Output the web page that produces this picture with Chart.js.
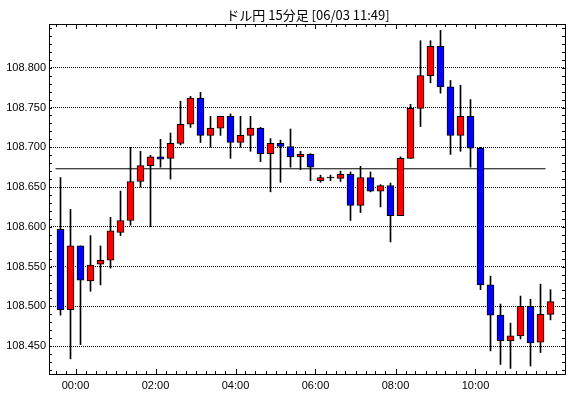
<!DOCTYPE html>
<html>
<head>
<meta charset="utf-8">
<script src="https://cdn.jsdelivr.net/npm/chart.js@4/dist/chart.umd.min.js"></script>
<style>
  html, body { margin: 0; padding: 0; background: #fff; }
  #wrap { width: 570px; height: 398px; position: relative; }
</style>
</head>
<body>
<div id="wrap"><canvas id="candleChart"></canvas></div>
<script>
  var chartTitle = "ドル円 15分足 [06/03 11:49]";

  // 15 minute bars, first bar starts 23:30 the day before
  var times = [
    "23:30", "23:45", "00:00", "00:15", "00:30", "00:45", "01:00", "01:15", "01:30", "01:45",
    "02:00", "02:15", "02:30", "02:45", "03:00", "03:15", "03:30", "03:45", "04:00", "04:15",
    "04:30", "04:45", "05:00", "05:15", "05:30", "05:45", "06:00", "06:15", "06:30", "06:45",
    "07:00", "07:15", "07:30", "07:45", "08:00", "08:15", "08:30", "08:45", "09:00", "09:15",
    "09:30", "09:45", "10:00", "10:15", "10:30", "10:45", "11:00", "11:15", "11:30", "11:45"
  ];

  var opens = [
    108.597, 108.496, 108.576, 108.532, 108.553, 108.558, 108.593, 108.608, 108.657, 108.677,
    108.688, 108.686, 108.705, 108.729, 108.762, 108.715, 108.724, 108.739, 108.706, 108.715,
    108.724, 108.692, 108.705, 108.701, 108.688, 108.691, 108.658, 108.662, 108.661, 108.666,
    108.627, 108.662, 108.645, 108.652, 108.614, 108.686, 108.749, 108.790, 108.827, 108.776,
    108.715, 108.739, 108.699, 108.527, 108.489, 108.457, 108.463, 108.500, 108.455, 108.490
  ];
  var highs = [
    108.662, 108.622, 108.576, 108.589, 108.576, 108.612, 108.645, 108.700, 108.695, 108.690,
    108.710, 108.718, 108.758, 108.764, 108.769, 108.739, 108.739, 108.742, 108.739, 108.739,
    108.725, 108.711, 108.709, 108.723, 108.695, 108.692, 108.665, 108.665, 108.670, 108.669,
    108.676, 108.669, 108.653, 108.655, 108.688, 108.754, 108.834, 108.834, 108.847, 108.784,
    108.778, 108.760, 108.700, 108.538, 108.503, 108.479, 108.513, 108.509, 108.528, 108.521
  ];
  var lows = [
    108.489, 108.434, 108.452, 108.519, 108.527, 108.548, 108.589, 108.602, 108.650, 108.600,
    108.675, 108.660, 108.703, 108.725, 108.706, 108.700, 108.715, 108.686, 108.700, 108.695,
    108.682, 108.644, 108.656, 108.675, 108.672, 108.658, 108.656, 108.658, 108.657, 108.608,
    108.618, 108.644, 108.625, 108.581, 108.614, 108.686, 108.726, 108.781, 108.768, 108.691,
    108.695, 108.675, 108.521, 108.444, 108.427, 108.422, 108.459, 108.425, 108.442, 108.483
  ];
  var closes = [
    108.496, 108.576, 108.533, 108.552, 108.558, 108.595, 108.608, 108.657, 108.677, 108.688,
    108.685, 108.705, 108.729, 108.762, 108.715, 108.724, 108.739, 108.706, 108.715, 108.724,
    108.692, 108.705, 108.701, 108.688, 108.691, 108.675, 108.662, 108.662, 108.666, 108.627,
    108.662, 108.645, 108.652, 108.614, 108.686, 108.749, 108.790, 108.827, 108.776, 108.715,
    108.739, 108.699, 108.527, 108.489, 108.457, 108.463, 108.500, 108.454, 108.490, 108.506
  ];

  var yTicks = [108.45, 108.5, 108.55, 108.6, 108.65, 108.7, 108.75, 108.8];
  var refLevel = 108.673;
  var refFrom = 0, refTo = 48; // bar indexes covered by the reference line

  var upColor = "#ff0000";
  var downColor = "#0000ff";

  function buildBodies() {
    var out = [];
    for (var i = 0; i < opens.length; i++) {
      var o = opens[i], c = closes[i];
      if (Math.abs(o - c) < 0.0012) {
        // doji: keep it about one pixel tall so it shows as a line
        var m = (o + c) / 2;
        out.push({ x: i, y: [m - 0.0006, m + 0.0006] });
      } else {
        out.push({ x: i, y: [o, c] });
      }
    }
    return out;
  }

  function buildWicks() {
    return lows.map(function (l, i) {
      return { x: i, y: [l, highs[i]] };
    });
  }

  function bodyColors() {
    return opens.map(function (o, i) {
      if (Math.abs(o - closes[i]) < 0.0012) return "#000000";
      return closes[i] > o ? upColor : downColor;
    });
  }

  // index of each labelled hour (even hours) -> tick on the left edge of that bar
  function majorTicks() {
    var list = [];
    times.forEach(function (t, i) {
      var h = parseInt(t.slice(0, 2), 10);
      if (t.slice(3) === "00" && h % 2 === 0) list.push({ value: i - 0.5, label: t });
    });
    return list;
  }

  var xMajor = majorTicks();

  var framePlugin = {
    id: "frame",
    afterDraw: function (chart) {
      var ctx = chart.ctx;
      var a = chart.chartArea;
      var xs = chart.scales.x;
      var ys = chart.scales.y;
      ctx.save();
      ctx.strokeStyle = "#000";
      ctx.lineWidth = 1;
      ctx.beginPath();

      // small ticks inside the box, one per bar edge
      for (var k = -1; k < times.length; k++) {
        var v = k + 0.5;
        var px = Math.round(xs.getPixelForValue(v)) + 0.5;
        var big = xMajor.some(function (m) { return m.value === v; });
        var len = big ? 5 : 3;
        ctx.moveTo(px, a.bottom);
        ctx.lineTo(px, a.bottom - len);
        ctx.moveTo(px, a.top);
        ctx.lineTo(px, a.top + len);
      }
      // price ticks every 0.01 on both sides
      for (var p = 108.42; p < 108.86; p += 0.01) {
        var py = Math.round(ys.getPixelForValue(p)) + 0.5;
        ctx.moveTo(a.left, py);
        ctx.lineTo(a.left + 3, py);
        ctx.moveTo(a.right, py);
        ctx.lineTo(a.right - 3, py);
      }
      ctx.stroke();

      ctx.strokeRect(a.left + 0.5, a.top + 0.5, a.right - a.left, a.bottom - a.top);

      ctx.fillStyle = "#000";
      ctx.font = '13px "Noto Sans CJK JP"';
      ctx.textAlign = "center";
      ctx.textBaseline = "middle";
      ctx.fillText(chartTitle, (a.left + a.right) / 2 + 1, 15);
      ctx.restore();
    }
  };

  var ctx = document.getElementById("candleChart").getContext("2d");
  var chart = new Chart(ctx, {
    type: "bar",
    data: {
      datasets: [
        {
          data: buildBodies(),
          backgroundColor: bodyColors(),
          borderColor: "#000000",
          borderWidth: 1,
          borderSkipped: false,
          barThickness: 7,
          grouped: false,
          order: 0,
        },
        {
          data: buildWicks(),
          backgroundColor: "#000000",
          borderWidth: 0,
          barThickness: 1,
          grouped: false,
          order: 1,
        },
        {
          type: "line",
          data: [
            { x: refFrom - 0.5, y: refLevel },
            { x: refTo + 0.5, y: refLevel },
          ],
          borderColor: "#000000",
          borderWidth: 1,
          pointRadius: 0,
          order: 2,
        },
      ],
    },
    plugins: [framePlugin],
    options: {
      responsive: true,
      maintainAspectRatio: false,
      animation: false,
      layout: { padding: { left: 0, top: 24, right: 5, bottom: 0 } },
      plugins: {
        legend: { display: false },
        tooltip: { enabled: false },
        title: { display: false },
      },
      scales: {
        x: {
          type: "linear",
          min: -1.15,
          max: 50.45,
          offset: false,
          grid: { display: false, drawTicks: false, offset: false },
          border: { display: false },
          afterBuildTicks: function (scale) {
            scale.ticks = xMajor.map(function (m) { return { value: m.value }; });
          },
          afterFit: function (scale) {
            scale.height = 24;
          },
          ticks: {
            color: "#000",
            padding: 5,
            maxRotation: 0,
            font: { family: "Liberation Sans", size: 11 },
            callback: function (value) {
              var m = xMajor.find(function (t) { return t.value === value; });
              return m ? m.label : "";
            },
          },
        },
        y: {
          min: 108.415,
          max: 108.855,
          grid: { color: "#000", lineWidth: 1, drawTicks: false },
          border: { display: false, dash: [1, 1] },
          afterBuildTicks: function (scale) {
            scale.ticks = yTicks.map(function (v) { return { value: v }; });
          },
          afterFit: function (scale) {
            scale.width = 49;
          },
          ticks: {
            color: "#000",
            padding: 3,
            font: { family: "Liberation Sans", size: 11 },
            callback: function (value) {
              return value.toFixed(3);
            },
          },
        },
      },
    },
  });
</script>
</body>
</html>
